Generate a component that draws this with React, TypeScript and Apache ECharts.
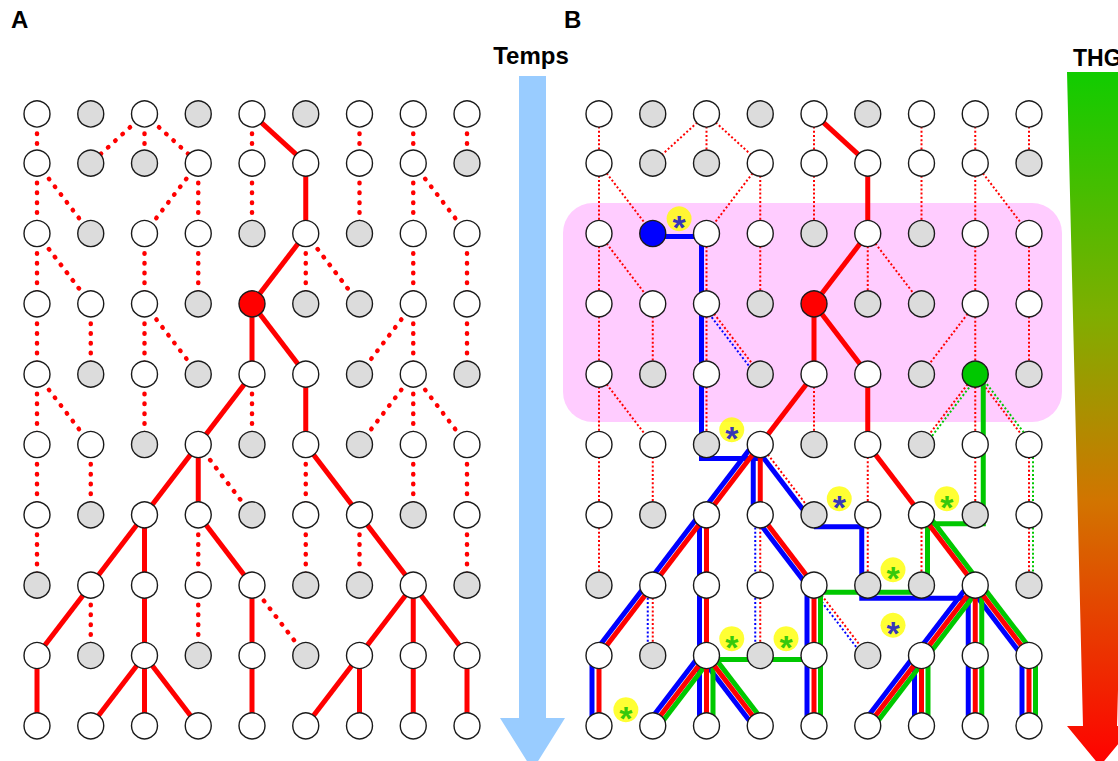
import React, { useEffect, useRef } from "react";
import * as echarts from "echarts";

// ---------- data ----------
const COLS = 9;
// time position of each generation (row)
const rowTimes = [0, 0.7, 1.7, 2.7, 3.7, 4.7, 5.7, 6.7, 7.7, 8.7];
// columns of extinct (grey) individuals per generation
const greyCols: number[][] = [
  [1, 3, 5],
  [1, 2, 8],
  [1, 4, 6],
  [3, 5, 6],
  [1, 3, 6, 8],
  [2, 4, 6],
  [1, 4, 7],
  [0, 5, 6, 8],
  [1, 3, 5],
  [],
];
const redNode = [3, 4]; // [row, col]
const blueNodeB = [2, 1];
const greenNodeB = [4, 7];

// genealogy edges: [fromRow, fromCol, toCol, 's' solid | 'd' dotted]
const redEdges: [number, number, number, string][] = [
  [0, 0, 0, "d"], [0, 2, 1, "d"], [0, 2, 2, "d"], [0, 2, 3, "d"], [0, 4, 4, "d"], [0, 4, 5, "s"], [0, 6, 6, "d"], [0, 7, 7, "d"], [0, 8, 8, "d"],
  [1, 0, 0, "d"], [1, 0, 1, "d"], [1, 3, 2, "d"], [1, 3, 3, "d"], [1, 4, 4, "d"], [1, 5, 5, "s"], [1, 6, 6, "d"], [1, 7, 7, "d"], [1, 7, 8, "d"],
  [2, 0, 0, "d"], [2, 0, 1, "d"], [2, 2, 2, "d"], [2, 3, 3, "d"], [2, 5, 4, "s"], [2, 5, 5, "d"], [2, 5, 6, "d"], [2, 7, 7, "d"], [2, 8, 8, "d"],
  [3, 0, 0, "d"], [3, 1, 1, "d"], [3, 2, 2, "d"], [3, 2, 3, "d"], [3, 4, 4, "s"], [3, 4, 5, "s"], [3, 7, 6, "d"], [3, 7, 7, "d"], [3, 8, 8, "d"],
  [4, 0, 0, "d"], [4, 0, 1, "d"], [4, 2, 2, "d"], [4, 4, 3, "s"], [4, 4, 4, "d"], [4, 5, 5, "s"], [4, 7, 6, "d"], [4, 7, 7, "d"], [4, 7, 8, "d"],
  [5, 0, 0, "d"], [5, 1, 1, "d"], [5, 3, 2, "s"], [5, 3, 3, "s"], [5, 3, 4, "d"], [5, 5, 5, "d"], [5, 5, 6, "s"], [5, 7, 7, "d"], [5, 8, 8, "d"],
  [6, 0, 0, "d"], [6, 2, 1, "s"], [6, 2, 2, "s"], [6, 3, 3, "d"], [6, 3, 4, "s"], [6, 5, 5, "d"], [6, 6, 6, "d"], [6, 6, 7, "s"], [6, 8, 8, "d"],
  [7, 1, 0, "s"], [7, 1, 1, "d"], [7, 2, 2, "s"], [7, 3, 3, "d"], [7, 4, 4, "s"], [7, 4, 5, "d"], [7, 7, 6, "s"], [7, 7, 7, "s"], [7, 7, 8, "s"],
  [8, 0, 0, "s"], [8, 2, 1, "s"], [8, 2, 2, "s"], [8, 2, 3, "s"], [8, 4, 4, "s"], [8, 6, 5, "s"], [8, 6, 6, "s"], [8, 7, 7, "s"], [8, 8, 8, "s"],
];

// gene lineages in panel B
const blueEdges: [number, number, number, string][] = [
  [3, 2, 3, "d"],
  [5, 3, 2, "s"], [5, 3, 3, "s"], [5, 3, 4, "s"],
  [6, 2, 1, "s"], [6, 2, 2, "s"], [6, 3, 3, "d"], [6, 3, 4, "s"],
  [7, 1, 0, "s"], [7, 1, 1, "d"], [7, 2, 2, "s"], [7, 3, 3, "d"], [7, 4, 4, "s"], [7, 4, 5, "d"],
  [7, 7, 6, "s"], [7, 7, 7, "s"], [7, 7, 8, "s"],
  [8, 0, 0, "s"], [8, 2, 1, "s"], [8, 2, 2, "s"], [8, 2, 3, "s"], [8, 4, 4, "s"],
  [8, 6, 5, "s"], [8, 6, 6, "s"], [8, 7, 7, "s"], [8, 8, 8, "s"],
];
const greenEdges: [number, number, number, string][] = [
  [4, 7, 6, "d"], [4, 7, 8, "d"], [5, 8, 8, "d"], [6, 8, 8, "d"],
  [6, 6, 7, "s"], [7, 4, 4, "s"], [8, 4, 4, "s"],
  [7, 7, 6, "s"], [7, 7, 7, "s"], [7, 7, 8, "s"],
  [8, 2, 1, "s"], [8, 2, 2, "s"], [8, 2, 3, "s"],
  [8, 6, 5, "s"], [8, 6, 6, "s"], [8, 7, 7, "s"], [8, 8, 8, "s"],
];
// horizontal transfers: waypoints [col, row, dxPx, dyPx]
const blueTransfers: number[][][] = [
  [[1, 2, 0, 3], [2, 2, -5, 3], [2, 5, -5, 14], [3, 5, 0, 14]],
  [[4, 6, 0, 12], [5, 6, -6, 12], [5, 7, -6, 13], [7, 7, -8, 13]],
];
const greenTransfers: number[][][] = [
  [[7, 4, 8, 0], [7, 6, 8, 9], [6, 6, 6, 9], [6, 7, 6, 7], [4, 7, 6, 7]],
  [[4, 8, 0, 4], [2, 8, 7, 4]],
];

// transfer markers (asterisks) in panel B: column / time position
const markerCols = [1.49, 2.47, 4.47, 6.47, 5.47, 2.47, 3.48, 5.47, 0.5];
const markerTimes = [1.49, 4.49, 5.47, 5.47, 6.48, 7.46, 7.46, 7.27, 8.47];
const markerGene = ["blue", "blue", "blue", "green", "green", "green", "green", "blue", "green"];

// ---------- helpers ----------
const PX_X = 53.75;
const PX_Y = 70.4;
const pt = (col: number, row: number, dx = 0, dy = 0) => [col + dx / PX_X, rowTimes[row] + dy / PX_Y];

const RED = "#ff0000";
const BLUE = "#0000ff";
const GREEN = "#00c800";
const FONT = "'Liberation Sans', Arial, sans-serif";

function edgeData(edges: [number, number, number, string][], kind: string, dx: number) {
  return edges
    .filter((e) => e[3] === kind)
    .map((e) => ({ coords: [pt(e[1], e[0], dx), pt(e[2], e[0] + 1, dx)] }));
}
function pathData(paths: number[][][]) {
  return paths.map((p) => ({ coords: p.map((w) => pt(w[0], w[1], w[2], w[3])) }));
}
function nodes(panel: "A" | "B") {
  const out: any[] = [];
  for (let r = 0; r < rowTimes.length; r++) {
    for (let c = 0; c < COLS; c++) {
      let color = greyCols[r].includes(c) ? "#dcdcdc" : "#ffffff";
      if (r === redNode[0] && c === redNode[1]) color = RED;
      if (panel === "B" && r === blueNodeB[0] && c === blueNodeB[1]) color = BLUE;
      if (panel === "B" && r === greenNodeB[0] && c === greenNodeB[1]) color = GREEN;
      out.push({ value: [c, rowTimes[r]], itemStyle: { color } });
    }
  }
  return out;
}

function linesSeries(grid: number, data: any[], color: string, width: number, type: any, cap: string, z: number) {
  return {
    type: "lines",
    coordinateSystem: "cartesian2d",
    xAxisIndex: grid,
    yAxisIndex: grid,
    polyline: true,
    clip: false,
    silent: true,
    z,
    lineStyle: { color, width, type, cap, join: "miter", opacity: 1 },
    data,
  };
}

function label(text: string, x: number, y: number, size: number, align = "left") {
  return {
    type: "text",
    silent: true,
    style: {
      text,
      x,
      y,
      fontSize: size,
      fontWeight: "bold",
      fontFamily: FONT,
      fill: "#000",
      textAlign: align,
      textVerticalAlign: "middle",
    },
  };
}

export default function App() {
  const ref = useRef<HTMLDivElement>(null);
  useEffect(() => {
    if (!ref.current) return;
    const chart = echarts.init(ref.current, undefined, { renderer: "svg" });
    const dotA: any = [0.5, 9.3];
    const dotB: any = [2, 2.2];
    const nodeSeries = (grid: number, panel: "A" | "B") => ({
      type: "scatter",
      xAxisIndex: grid,
      yAxisIndex: grid,
      symbol: "circle",
      symbolSize: 26,
      clip: false,
      silent: true,
      z: 5,
      itemStyle: { borderColor: "#1a1a1a", borderWidth: 1.4, opacity: 1 },
      data: nodes(panel),
    });
    const option: any = {
      animation: false,
      grid: [
        { left: 10.125, top: 78.8, width: 483.75, height: 682.9 },
        { left: 572.125, top: 78.8, width: 483.75, height: 682.9 },
      ],
      xAxis: [
        { gridIndex: 0, type: "value", min: -0.5, max: 8.5, show: false },
        { gridIndex: 1, type: "value", min: -0.5, max: 8.5, show: false },
      ],
      yAxis: [
        { gridIndex: 0, type: "value", min: -0.5, max: 9.2, inverse: true, show: false },
        { gridIndex: 1, type: "value", min: -0.5, max: 9.2, inverse: true, show: false },
      ],
      graphic: [
        {
          type: "rect",
          z: -10,
          shape: { x: 563, y: 203, width: 499, height: 219, r: 30 },
          style: { fill: "#ffccff" },
          silent: true,
        },
        {
          type: "polygon",
          shape: {
            points: [
              [519, 76], [546, 76], [546, 718], [565, 718], [532.5, 770], [500, 718], [519, 718],
            ],
          },
          style: { fill: "#99ccff" },
          silent: true,
        },
        {
          type: "polygon",
          shape: {
            points: [
              [1067, 72], [1135, 72], [1117, 726], [1133, 726], [1100, 766], [1067, 726], [1083, 726],
            ],
          },
          style: {
            fill: new echarts.graphic.LinearGradient(0, 0, 0, 1, [
              { offset: 0, color: "#11cc00" },
              { offset: 0.35, color: "#7fae00" },
              { offset: 0.62, color: "#d27400" },
              { offset: 1, color: "#ff0000" },
            ]),
          },
          silent: true,
        },
        label("A", 11, 19, 24),
        label("B", 564, 19, 24),
        label("Temps", 531, 55, 24, "center"),
        label("THG", 1073, 58, 23),
      ],
      series: [
        // panel A
        linesSeries(0, edgeData(redEdges, "d", 0), RED, 4.5, dotA, "round", 2),
        linesSeries(0, edgeData(redEdges, "s", 0), RED, 5, "solid", "butt", 2),
        nodeSeries(0, "A"),
        // panel B
        linesSeries(1, edgeData(redEdges, "d", 0), RED, 2, dotB, "butt", 2),
        linesSeries(1, edgeData(blueEdges, "d", -5), BLUE, 2, dotB, "butt", 2),
        linesSeries(1, edgeData(greenEdges, "d", 4), GREEN, 2, dotB, "butt", 2),
        linesSeries(1, [...edgeData(blueEdges, "s", -7), ...pathData(blueTransfers)], BLUE, 5, "solid", "butt", 3),
        linesSeries(1, [...edgeData(greenEdges, "s", 6.5), ...pathData(greenTransfers)], GREEN, 5, "solid", "butt", 3),
        linesSeries(1, edgeData(redEdges, "s", 0), RED, 5, "solid", "butt", 3),
        nodeSeries(1, "B"),
        {
          type: "scatter",
          xAxisIndex: 1,
          yAxisIndex: 1,
          symbol: "circle",
          symbolSize: 25,
          clip: false,
          silent: true,
          z: 6,
          itemStyle: { color: "#ffff00" },
          label: {
            show: true,
            position: "inside",
            formatter: "*",
            fontSize: 34,
            fontWeight: "bold",
            fontFamily: FONT,
            textBorderWidth: 0,
            textBorderColor: "transparent",
            offset: [0, 8],
          },
          data: markerCols.map((c, i) => ({
            value: [c, markerTimes[i]],
            label: { color: markerGene[i] === "blue" ? "#0000dd" : "#00bb00" },
          })),
        },
      ],
    };
    chart.setOption(option);
    return () => chart.dispose();
  }, []);
  return <div ref={ref} style={{ position: "absolute", left: 0, top: 0, width: 1118, height: 761, background: "#fff" }} />;
}
